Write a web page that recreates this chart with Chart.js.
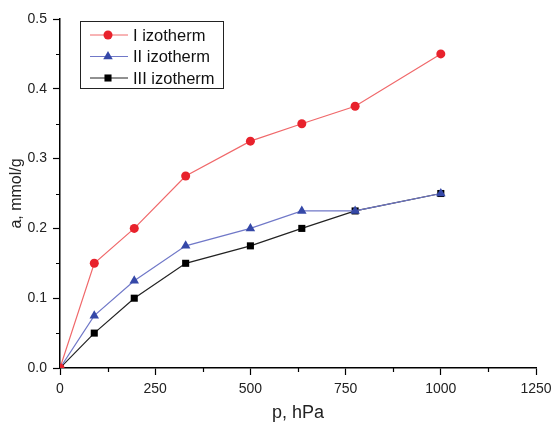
<!DOCTYPE html>
<html lang="en">
<head>
    <meta charset="UTF-8">
    <title>Adsorption isotherms</title>
    <script src="https://cdn.jsdelivr.net/npm/chart.js"></script>
    <style>
        html, body { margin: 0; padding: 0; background: #fff; }
    </style>
</head>
<body>
    <div style="width: 554px; height: 422px;">
        <canvas id="isoChart"></canvas>
    </div>
    <script>
        // pressure, hPa
        const pressure = [0, 90, 195, 330, 500, 635, 775, 1000];
        // adsorbed amount, mmol/g
        const isoI   = [0, 0.15, 0.2, 0.275, 0.325, 0.35, 0.375, 0.45];
        const isoII  = [0, 0.075, 0.125, 0.175, 0.2, 0.225, 0.225, 0.25];
        const isoIII = [0, 0.05, 0.1, 0.15, 0.175, 0.2, 0.225, 0.25];
        const seriesNames = ['I izotherm', 'II izotherm', 'III izotherm'];

        const xMajor = [0, 250, 500, 750, 1000, 1250];
        const yMajor = [0, 0.1, 0.2, 0.3, 0.4, 0.5];

        const FONT = '"Liberation Sans", Arial, sans-serif';

        const toPoints = ys => pressure.map((p, i) => ({ x: p, y: ys[i] }));
        const isMajorX = v => xMajor.includes(v);
        const isMajorY = v => yMajor.some(m => Math.abs(m - v) < 1e-9);

        // short minor ticks between the labelled ones
        const minorTicks = {
            id: 'minorTicks',
            afterDraw(chart) {
                const c = chart.ctx;
                const xs = chart.scales.x, ys = chart.scales.y;
                c.save();
                c.strokeStyle = '#000';
                c.lineWidth = 1.2;
                c.beginPath();
                xs.ticks.forEach(t => {
                    if (isMajorX(t.value)) return;
                    const px = Math.round(xs.getPixelForValue(t.value)) + 0.5;
                    c.moveTo(px, xs.top);
                    c.lineTo(px, xs.top + 4);
                });
                ys.ticks.forEach(t => {
                    if (isMajorY(t.value)) return;
                    const py = Math.round(ys.getPixelForValue(t.value)) + 0.5;
                    c.moveTo(ys.right, py);
                    c.lineTo(ys.right - 4, py);
                });
                c.stroke();
                c.restore();
            }
        };

        // legend box drawn inside the plot, upper-left corner
        const boxLegend = {
            id: 'boxLegend',
            afterDraw(chart) {
                const c = chart.ctx;
                const left = chart.chartArea.left + 20, top = 21;
                const w = 143, h = 67;
                c.save();
                c.strokeStyle = '#222';
                c.lineWidth = 1;
                c.strokeRect(left + 0.5, top + 0.5, w, h);
                c.font = '16.5px ' + FONT;
                c.textBaseline = 'middle';
                chart.data.datasets.forEach((ds, i) => {
                    const cy = top + 14 + i * 21.5;
                    c.strokeStyle = ds.borderColor;
                    c.lineWidth = 1;
                    c.beginPath();
                    c.moveTo(left + 10, cy);
                    c.lineTo(left + 48, cy);
                    c.stroke();
                    c.fillStyle = ds.pointBackgroundColor;
                    Chart.helpers.drawPoint(c, {
                        pointStyle: ds.pointStyle,
                        radius: ds.pointRadius,
                        borderWidth: 0
                    }, left + 28, cy);
                    c.fillStyle = '#111';
                    c.fillText(ds.label, left + 53, cy + 1);
                });
                c.restore();
            }
        };

        const ctx = document.getElementById('isoChart').getContext('2d');
        new Chart(ctx, {
            type: 'line',
            data: {
                datasets: [{
                    label: seriesNames[0],
                    data: toPoints(isoI),
                    borderColor: '#f0686a',
                    borderWidth: 1.2,
                    pointStyle: 'circle',
                    pointRadius: 4.5,
                    pointBackgroundColor: '#e8222c',
                    pointBorderWidth: 0
                }, {
                    label: seriesNames[1],
                    data: toPoints(isoII),
                    borderColor: '#7078c8',
                    borderWidth: 1.2,
                    pointStyle: 'triangle',
                    pointRadius: 5.5,
                    pointBackgroundColor: '#3548a8',
                    pointBorderWidth: 0
                }, {
                    label: seriesNames[2],
                    data: toPoints(isoIII),
                    borderColor: '#222',
                    borderWidth: 1.2,
                    pointStyle: 'rect',
                    pointRadius: 5,
                    pointBackgroundColor: '#000',
                    pointBorderWidth: 0
                }]
            },
            options: {
                responsive: true,
                maintainAspectRatio: false,
                animation: false,
                layout: { padding: { top: 19, right: 18, bottom: 0, left: 0 } },
                plugins: {
                    legend: { display: false },
                    tooltip: { enabled: false }
                },
                scales: {
                    x: {
                        type: 'linear',
                        min: 0,
                        max: 1250,
                        afterBuildTicks: s => { s.ticks = []; for (let v = 0; v <= 1250; v += 125) s.ticks.push({ value: v }); },
                        afterFit: s => { s.height = 54; s.paddingRight = 0; s.paddingLeft = 0; },
                        border: { display: true, color: '#000', width: 1.5 },
                        grid: {
                            drawOnChartArea: false, drawTicks: true, tickLength: 7, tickWidth: 1.2,
                            tickColor: c => isMajorX(c.tick.value) ? '#000' : 'rgba(0,0,0,0)'
                        },
                        ticks: {
                            padding: 6,
                            maxRotation: 0,
                            autoSkip: false,
                            color: '#222',
                            font: { family: FONT, size: 14 },
                            callback: v => isMajorX(v) ? String(v) : ''
                        },
                        title: {
                            display: true,
                            text: 'p, hPa',
                            color: '#222',
                            font: { family: FONT, size: 18, lineHeight: 1 },
                            padding: { top: 0, bottom: 0 }
                        }
                    },
                    y: {
                        min: 0,
                        max: 0.5,
                        afterBuildTicks: s => { s.ticks = []; for (let k = 0; k <= 10; k++) s.ticks.push({ value: k * 0.05 }); },
                        afterFit: s => { s.width = 60; },
                        border: { display: true, color: '#000', width: 1.5 },
                        grid: {
                            drawOnChartArea: false, drawTicks: true, tickLength: 7, tickWidth: 1.2,
                            tickColor: c => isMajorY(c.tick.value) ? '#000' : 'rgba(0,0,0,0)'
                        },
                        ticks: {
                            padding: 6,
                            autoSkip: false,
                            color: '#222',
                            font: { family: FONT, size: 14 },
                            callback: v => isMajorY(v) ? v.toFixed(1) : ''
                        },
                        title: {
                            display: true,
                            text: 'a, mmol/g',
                            color: '#222',
                            font: { family: FONT, size: 16 },
                            padding: { top: 7, bottom: 0 }
                        }
                    }
                }
            },
            plugins: [minorTicks, boxLegend]
        });
    </script>
</body>
</html>
